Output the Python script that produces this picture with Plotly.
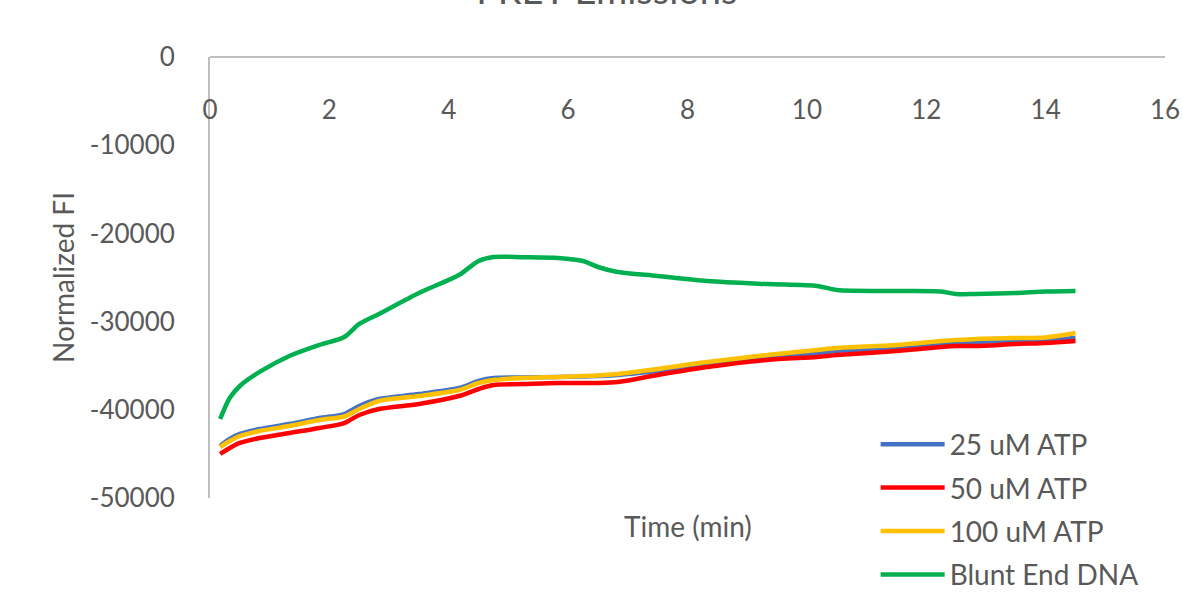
import plotly.graph_objects as go

# Sampling times (min)
time_min = [0.17, 0.33, 0.5, 0.83, 1.33, 1.83, 2.25, 2.5, 2.83, 3.5, 4.17, 4.5, 4.75,
            5.25, 5.83, 6.25, 6.5, 6.83, 7.5, 8.33, 9.33, 10.17, 10.5, 11.5, 12.25,
            12.5, 12.83, 13.5, 14.0, 14.5]

# Normalized fluorescence intensity per condition
atp_25 = [-44100, -43310, -42740, -42180, -41610, -40930, -40480, -39570, -38780,
          -38210, -37530, -36730, -36400, -36340, -36280, -36230, -36170, -36050,
          -35600, -34920, -34130, -33560, -33330, -32880, -32540, -32430, -32310,
          -32200, -32090, -31860]
atp_50 = [-45010, -44330, -43760, -43200, -42630, -42060, -41500, -40590, -39910,
          -39340, -38440, -37640, -37190, -37080, -36960, -36960, -36960, -36850,
          -36050, -35150, -34350, -34010, -33790, -33330, -32880, -32770, -32770,
          -32540, -32430, -32200]
atp_100 = [-44220, -43540, -42970, -42400, -41840, -41160, -40760, -39910, -39000,
           -38440, -37760, -36960, -36620, -36400, -36280, -36170, -36110, -35940,
           -35370, -34580, -33790, -33220, -32990, -32650, -32200, -32090, -31970,
           -31860, -31800, -31300]
blunt_end = [-41040, -38660, -37300, -35710, -33900, -32650, -31750, -30270, -29140,
             -26760, -24720, -23130, -22680, -22700, -22790, -23130, -23810, -24380,
             -24830, -25400, -25740, -25960, -26420, -26530, -26590, -26870, -26870,
             -26760, -26590, -26530]

series_names = ["25 uM ATP", "50 uM ATP", "100 uM ATP", "Blunt End DNA"]
series_values = [atp_25, atp_50, atp_100, blunt_end]
series_colors = ["#4472C4", "#FF0000", "#FFC000", "#00B050"]

x_ticks = [0, 2, 4, 6, 8, 10, 12, 14, 16]
y_ticks = [0, -10000, -20000, -30000, -40000, -50000]
y_tick_text = ["0", "-10000", "-20000", "-30000", "-40000", "-50000"]

FONT = "Lato, Carlito, sans-serif"
GREY = "#595959"
AXIS_LINE = "#BFBFBF"

fig = go.Figure()
for i, (name, vals, col) in enumerate(zip(series_names, series_values, series_colors)):
    fig.add_trace(go.Scatter(
        x=time_min, y=vals, name=name, mode="lines",
        line=dict(color=col, width=4.5, shape="spline", smoothing=0.8),
        legendgroup=f"g{i}",
    ))

fig.update_layout(
    width=1183, height=592,
    margin=dict(l=210, r=18, t=57, b=94, autoexpand=False),
    paper_bgcolor="white", plot_bgcolor="white",
    font=dict(family=FONT, color=GREY),
    title=dict(text="FRET Emissions", x=0.513, xanchor="center",
               y=0.993, yref="container", yanchor="bottom",
               font=dict(size=38, color=GREY, family=FONT)),
    showlegend=True,
    legend=dict(x=0.697, y=0.178, xanchor="left", yanchor="top",
                font=dict(size=28, color=GREY, family=FONT),
                bgcolor="rgba(0,0,0,0)", tracegroupgap=4, itemwidth=64),
    xaxis=dict(range=[0, 16], tickvals=x_ticks, anchor="free", position=1,
               side="bottom", showline=True, linecolor=AXIS_LINE, linewidth=2,
               showgrid=False, zeroline=False, ticks="", ticklabelstandoff=30,
               automargin=False,
               tickfont=dict(size=26, color=GREY, family=FONT)),
    yaxis=dict(range=[-50000, 0], tickvals=y_ticks, ticktext=y_tick_text,
               showline=True, linecolor=AXIS_LINE, linewidth=2,
               showgrid=False, zeroline=False, ticks="", ticklabelstandoff=28,
               automargin=False,
               tickfont=dict(size=26, color=GREY, family=FONT),
               title=dict(text="Normalized FI", standoff=7,
                          font=dict(size=28, color=GREY, family=FONT))),
)

fig.add_annotation(text="Time (min)", x=0.5, y=-0.02, xref="paper", yref="paper",
                   xanchor="center", yanchor="top", showarrow=False,
                   font=dict(size=28, color=GREY, family=FONT))

fig.write_html("out.html")
